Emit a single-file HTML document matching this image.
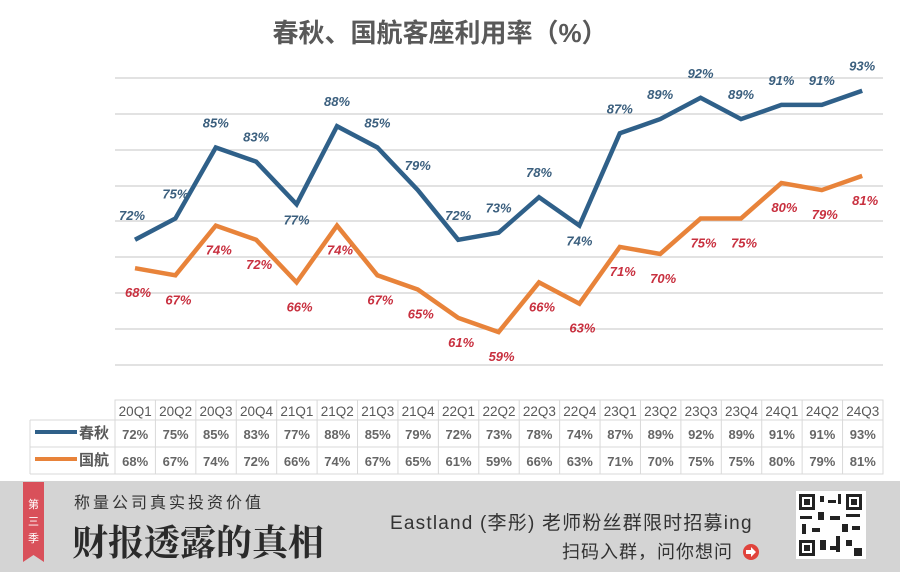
<!DOCTYPE html>
<html><head><meta charset="utf-8"><style>
body{margin:0;width:900px;height:572px;overflow:hidden;background:#fff;font-family:"Liberation Sans","Noto Sans CJK SC",sans-serif}
</style></head><body>
<svg width="900" height="572" xmlns="http://www.w3.org/2000/svg" font-family="Liberation Sans, Noto Sans CJK SC, sans-serif">
<text x="440" y="42" text-anchor="middle" font-size="26" font-weight="bold" fill="#595959">春秋、国航客座利用率（%）</text>
<g stroke="#d9d9d9" stroke-width="1.5">
<line x1="115" x2="883" y1="78" y2="78"/><line x1="115" x2="883" y1="114" y2="114"/><line x1="115" x2="883" y1="150" y2="150"/><line x1="115" x2="883" y1="186" y2="186"/><line x1="115" x2="883" y1="221" y2="221"/><line x1="115" x2="883" y1="257" y2="257"/><line x1="115" x2="883" y1="293" y2="293"/><line x1="115" x2="883" y1="329" y2="329"/><line x1="115" x2="883" y1="365" y2="365"/>
</g>
<g id="c"></g>
<g stroke="#d9d9d9" stroke-width="1" fill="none">
<rect x="115" y="400" width="768" height="74"/>
<line x1="30" y1="420" x2="883" y2="420"/><line x1="30" y1="447" x2="883" y2="447"/><line x1="30" y1="474" x2="115" y2="474"/>
<line x1="30" y1="420" x2="30" y2="474"/>
</g>
<g id="t"></g>
<line x1="35" y1="432" x2="77" y2="432" stroke="#2f6089" stroke-width="4"/>
<line x1="35" y1="459" x2="77" y2="459" stroke="#e8833a" stroke-width="4"/>
<text x="109" y="438" text-anchor="end" font-size="15" font-weight="bold" fill="#595959">春秋</text>
<text x="109" y="465" text-anchor="end" font-size="15" font-weight="bold" fill="#595959">国航</text>
<rect x="0" y="481" width="900" height="91" fill="#d4d4d4"/>
<path d="M23 482 H44 V562 L33.5 555 L23 562 Z" fill="#d9505a"/>
<text x="33.5" y="508" text-anchor="middle" font-size="11" fill="#fff">第</text>
<text x="33.5" y="525" text-anchor="middle" font-size="11" fill="#fff">三</text>
<text x="33.5" y="542" text-anchor="middle" font-size="11" fill="#fff">季</text>
<text x="74" y="508" font-size="16" fill="#333" letter-spacing="3">称量公司真实投资价值</text>
<text x="72" y="555" font-size="36" font-weight="bold" fill="#2a2a2a" font-family="Noto Serif CJK SC, serif">财报透露的真相</text>
<text x="390" y="529" font-size="19" fill="#333" letter-spacing="1.2">Eastland (李彤) 老师粉丝群限时招募ing</text>
<text x="562" y="558" font-size="18" fill="#333" letter-spacing="1">扫码入群，问你想问</text>
<circle cx="751" cy="552" r="8" fill="#e0433c"/><path d="M746 550 h5 v-3 l5 5 l-5 5 v-3 h-5z" fill="#fff"/>
<rect x="796" y="491" width="70" height="68" fill="#fff"/>
<g fill="#222"><rect x="799" y="494" width="16" height="16"/><rect x="846" y="494" width="16" height="16"/><rect x="799" y="540" width="16" height="16"/></g>
<g fill="#fff"><rect x="802" y="497" width="10" height="10"/><rect x="849" y="497" width="10" height="10"/><rect x="802" y="543" width="10" height="10"/></g>
<g fill="#222"><rect x="804" y="499" width="6" height="6"/><rect x="851" y="499" width="6" height="6"/><rect x="804" y="545" width="6" height="6"/>
<rect x="820" y="496" width="4" height="6"/><rect x="828" y="500" width="8" height="3"/><rect x="838" y="494" width="3" height="10"/><rect x="800" y="516" width="12" height="3"/><rect x="818" y="512" width="6" height="8"/><rect x="830" y="516" width="10" height="4"/><rect x="846" y="514" width="14" height="3"/><rect x="802" y="524" width="4" height="10"/><rect x="812" y="528" width="8" height="4"/><rect x="842" y="524" width="6" height="8"/><rect x="852" y="526" width="8" height="4"/><rect x="820" y="540" width="6" height="10"/><rect x="830" y="546" width="10" height="4"/><rect x="846" y="540" width="6" height="6"/><rect x="854" y="548" width="8" height="8"/><rect x="836" y="536" width="4" height="16"/></g>
</svg>
<script>
var b=[72,75,85,83,77,88,85,79,72,73,78,74,87,89,92,89,91,91,93];
var o=[68,67,74,72,66,74,67,65,61,59,66,63,71,70,75,75,80,79,81];
var q=["20Q1","20Q2","20Q3","20Q4","21Q1","21Q2","21Q3","21Q4","22Q1","22Q2","22Q3","22Q4","23Q1","23Q2","23Q3","23Q4","24Q1","24Q2","24Q3"];
function X(i){return 135+i*40.4}function Y(v){return 751-7.1*v}
var s='';
function line(a,c){var p=a.map(function(v,i){return X(i)+','+Y(v)}).join(' ');return '<polyline points="'+p+'" fill="none" stroke="'+c+'" stroke-width="4.5" stroke-linejoin="miter"/>'}
s+=line(o,'#e8833a')+line(b,'#2f6089');
var below={4:1,11:1};
b.forEach(function(v,i){var y=below[i]?Y(v)+20:Y(v)-20;var x=X(i)+(i==0?-3:0);s+='<text x="'+x+'" y="'+y+'" text-anchor="middle" font-size="13" font-weight="bold" font-style="italic" fill="#3b5f7e">'+v+'%</text>'});
o.forEach(function(v,i){s+='<text x="'+(X(i)+3)+'" y="'+(Y(v)+29)+'" text-anchor="middle" font-size="13" font-weight="bold" font-style="italic" fill="#c8303f">'+v+'%</text>'});
document.getElementById('c').innerHTML=s;
var t='';
for(var i=0;i<19;i++){var x0=115+i*40.42;if(i>0)t+='<line x1="'+x0+'" y1="400" x2="'+x0+'" y2="474" stroke="#d9d9d9"/>';
t+='<text x="'+(x0+20.2)+'" y="416" text-anchor="middle" font-size="13.5" fill="#595959">'+q[i]+'</text>';
t+='<text x="'+(x0+20.2)+'" y="439" text-anchor="middle" font-size="13" font-weight="bold" fill="#666">'+b[i]+'%</text>';
t+='<text x="'+(x0+20.2)+'" y="466" text-anchor="middle" font-size="13" font-weight="bold" fill="#666">'+o[i]+'%</text>';}
document.getElementById('t').innerHTML=t;
</script>
</body></html>
